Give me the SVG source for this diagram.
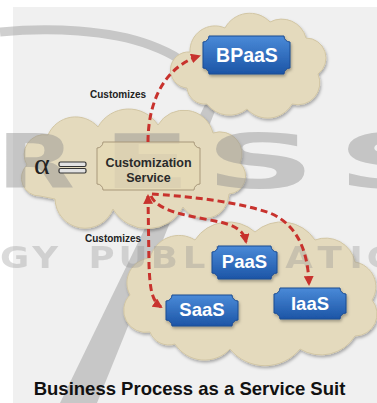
<svg xmlns="http://www.w3.org/2000/svg" width="377" height="403" viewBox="0 0 377 403">
<style>
.cloud{fill:#e4dabd;stroke:#d2c6a4;stroke-width:1;filter:url(#sh)}
.blue{fill:url(#bg);stroke:#1d4c92;stroke-width:1;filter:url(#sh)}
.bt{font-family:"Liberation Sans",Arial,sans-serif;font-weight:bold;fill:#fff;text-anchor:middle}
.lbl{font-family:"Liberation Sans",Arial,sans-serif;font-weight:bold;font-size:10px;fill:#222}
.arr{fill:none;stroke:#c8322d;stroke-width:3;stroke-dasharray:7 4}
.wm{font-family:"DejaVu Sans",sans-serif;font-weight:bold;fill:#8f8f8f}
</style>
<defs>
<linearGradient id="bg" x1="0" y1="0" x2="0" y2="1">
<stop offset="0" stop-color="#4a8ad8"/>
<stop offset="1" stop-color="#1c55a6"/>
</linearGradient>
<filter id="sh" x="-10%" y="-10%" width="120%" height="130%">
<feDropShadow dx="1" dy="2" stdDeviation="1.5" flood-color="#000" flood-opacity="0.3"/>
</filter>
<marker id="ah" viewBox="0 0 10 10" refX="8" refY="5" markerWidth="3.3" markerHeight="3.3" orient="auto-start-reverse" markerUnits="strokeWidth">
<path d="M0,0 L10,5 L0,10 Z" fill="#c8322d"/>
</marker>
</defs>
<rect x="0" y="0" width="377" height="403" fill="#fff"/>
<rect x="13" y="7" width="364" height="396" fill="#f0f0f0"/>
<g id="watermark-back" opacity="0.42">
<path d="M0,32 C50,27 110,30 150,45 S185,68 197,78" fill="none" stroke="#8f8f8f" stroke-width="9"/>
<polygon points="216,82 226,84 97,403 60,403" fill="#8f8f8f"/>
</g>
<g id="bpaas-cloud"><path class="cloud" d="M187,88 A18 18 0 0 1 190,52 A25 25 0 0 1 225,28 A28 28 0 0 1 270,22 A25 25 0 0 1 306,38 A20 20 0 0 1 318,74 A22 22 0 0 1 292,104 A28 28 0 0 1 247,109 A28 28 0 0 1 207,104 A18 18 0 0 1 187,88 Z"/></g>
<g id="service-cloud"><path class="cloud" d="M40,196 A18 18 0 0 1 27,165 A20 20 0 0 1 48,135 A30 30 0 0 1 98,127 A35 35 0 0 1 158,125 A30 30 0 0 1 213,133 A22 22 0 0 1 240,163 A18 18 0 0 1 229,194 A25 25 0 0 1 183,207 A40 40 0 0 1 113,209 A30 30 0 0 1 55,199 Z"/></g>
<g id="suite-cloud"><path class="cloud" d="M150,332 A22 22 0 0 1 130,295 A25 25 0 0 1 150,258 A30 30 0 0 1 195,240 A40 40 0 0 1 255,232 A40 40 0 0 1 315,240 A30 30 0 0 1 355,262 A25 25 0 0 1 372,300 A22 22 0 0 1 355,336 A40 40 0 0 1 300,349 A45 45 0 0 1 230,349 A35 35 0 0 1 175,344 A20 20 0 0 1 150,332 Z"/></g>
<g id="watermark-front" opacity="0.44">
<g transform="translate(-3,188) scale(1.35,1)"><text class="wm" font-size="75" x="0" y="0">R</text></g>
<g transform="translate(103,188) scale(1.7,1)"><text class="wm" font-size="75" x="0" y="0">E</text></g>
<g transform="translate(205,188) scale(2.05,1)"><text class="wm" font-size="75" x="0" y="0">S</text></g>
<g transform="translate(337,188) scale(2.05,1)"><text class="wm" font-size="75" x="0" y="0">S</text></g>
</g>
<g id="watermark-band" opacity="0.32">
<g transform="translate(0,268) scale(1.15,1)"><text class="wm" font-size="31" y="0" x="0 28 55 77 103 131 159 185 198 248 276 304 319">GY PUBLICATIC</text></g>
</g>
<g id="customization-service">
<path d="M103,142 H194 A6 6 0 0 0 200,148 V184 A6 6 0 0 0 194,190 H103 A6 6 0 0 0 97,184 V148 A6 6 0 0 0 103,142 Z" fill="#e6dab6" fill-opacity="0.75" stroke="#a8987a" stroke-width="1"/>
<text font-family="'Liberation Sans',Arial,sans-serif" font-weight="bold" font-size="12.5" fill="#2a2a2a" text-anchor="middle" x="148.5" y="167">Customization</text>
<text font-family="'Liberation Sans',Arial,sans-serif" font-weight="bold" font-size="12.5" fill="#2a2a2a" text-anchor="middle" x="148.5" y="182">Service</text>
</g>
<g id="alpha">
<text x="34" y="174" font-family="'Liberation Serif','Times New Roman',serif" font-size="30" fill="#222">α</text>
<rect x="59" y="162" width="27" height="4.5" rx="1.5" fill="#e2e2e2" stroke="#333" stroke-width="1.2"/>
<rect x="59" y="168.5" width="27" height="4.5" rx="1.5" fill="#e2e2e2" stroke="#333" stroke-width="1.2"/>
</g>
<g id="bpaas">
<path class="blue" d="M209,36 H284 A6 6 0 0 0 290,42 V68 A6 6 0 0 0 284,74 H209 A6 6 0 0 0 203,68 V42 A6 6 0 0 0 209,36 Z"/>
<text class="bt" x="247" y="62" font-size="19.5">BPaaS</text>
</g>
<g id="paas">
<path class="blue" d="M218,246 H271 A6 6 0 0 0 277,252 V273 A6 6 0 0 0 271,279 H218 A6 6 0 0 0 212,273 V252 A6 6 0 0 0 218,246 Z"/>
<text class="bt" x="244.5" y="268" font-size="18.5">PaaS</text>
</g>
<g id="saas">
<path class="blue" d="M172,295 H232 A6 6 0 0 0 238,301 V320 A6 6 0 0 0 232,326 H172 A6 6 0 0 0 166,320 V301 A6 6 0 0 0 172,295 Z"/>
<text class="bt" x="202" y="316" font-size="18.5">SaaS</text>
</g>
<g id="iaas">
<path class="blue" d="M280,288 H340 A6 6 0 0 0 346,294 V313 A6 6 0 0 0 340,319 H280 A6 6 0 0 0 274,313 V294 A6 6 0 0 0 280,288 Z"/>
<text class="bt" x="310" y="310" font-size="18.5">IaaS</text>
</g>
<g id="connectors">
<path class="arr" d="M148,142 C148,105 162,68 199,56" marker-end="url(#ah)"/>
<path class="arr" d="M148,196 L149,265 C150,290 152,301 161,307" marker-start="url(#ah)" marker-end="url(#ah)"/>
<path class="arr" d="M151,196 C158,212 190,216 215,221 C236,225 244,231 246,242" marker-end="url(#ah)"/>
<path class="arr" d="M152,194 C180,196 232,200 270,213 C300,226 308,255 309,284" marker-end="url(#ah)"/>
<text class="lbl" x="90" y="98">Customizes</text>
<text class="lbl" x="85" y="242">Customizes</text>
</g>
<text x="189.5" y="395" font-family="'Liberation Sans',Arial,sans-serif" font-weight="bold" font-size="18.5" fill="#111" text-anchor="middle">Business Process as a Service Suit</text>
</svg>
